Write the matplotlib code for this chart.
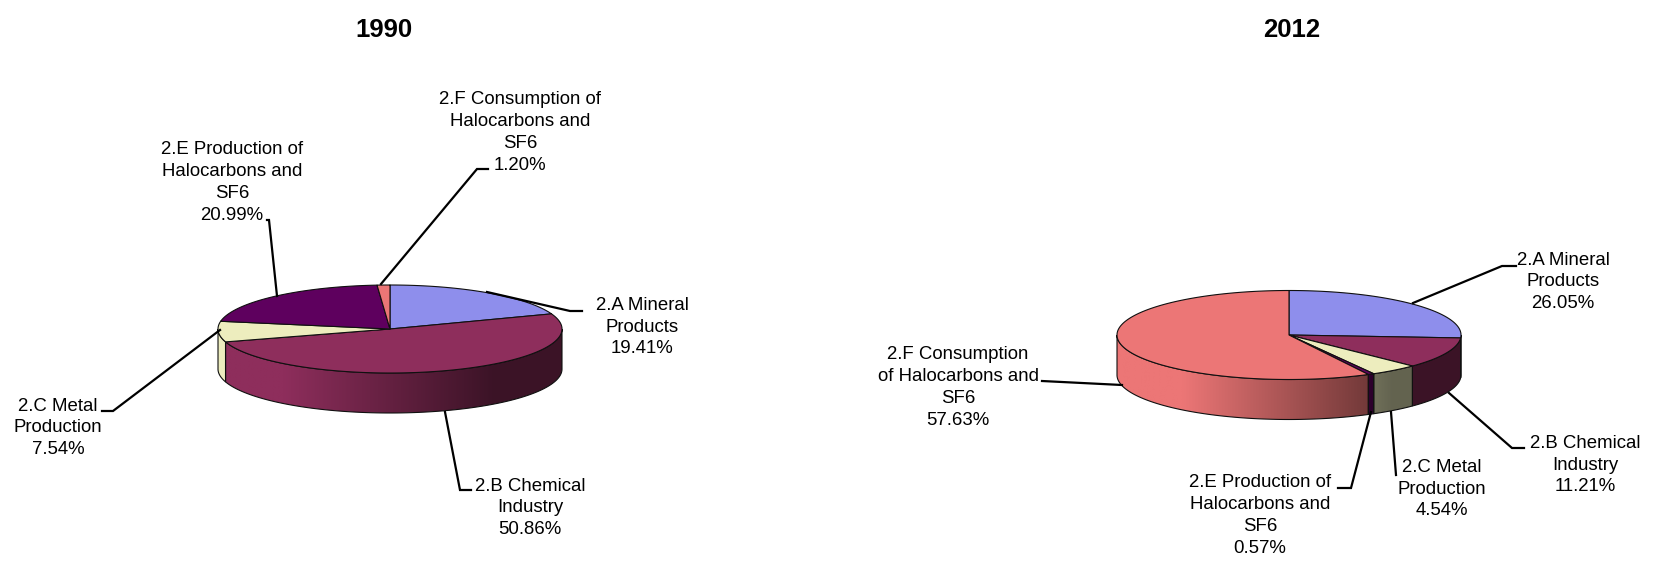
import numpy as np
import matplotlib
matplotlib.use('Agg')
import matplotlib.pyplot as plt
from matplotlib.patches import Polygon
from matplotlib.colors import to_rgb

plt.rcParams['font.family'] = ['Liberation Sans', 'DejaVu Sans']

years = ['1990', '2012']
values_1990 = [19.41, 50.86, 7.54, 20.99, 1.20]
values_2012 = [26.05, 11.21, 4.54, 0.57, 57.63]
names_1990 = ['2.A Mineral\nProducts', '2.B Chemical\nIndustry', '2.C Metal\nProduction',
              '2.E Production of\nHalocarbons and\nSF6', '2.F Consumption of\nHalocarbons and\nSF6']
names_2012 = ['2.A Mineral\nProducts', '2.B Chemical\nIndustry', '2.C Metal\nProduction',
              '2.E Production of\nHalocarbons and\nSF6', '2.F Consumption\nof Halocarbons and\nSF6']
colors = ['#8E8EEC', '#8E2E5C', '#EDEDBE', '#5E005E', '#EC7676']

# pixel layout of the figure: x, y of label centre
label_pos_1990 = [(642, 327), (530, 508), (58, 428), (232, 182.5), (520, 132.5)]
label_pos_2012 = [(1563, 282), (1585, 465), (1442, 489), (1260, 515.5), (958, 387.5)]
leaders_1990 = [[(487, 292), (570, 311), (582, 311)],
                [(445, 412), (460, 490), (471, 490)],
                [(220, 330), (113, 411), (102, 411)],
                [(277, 296), (269, 220), (267, 220)],
                [(381, 284), (477, 169), (488, 169)]]
leaders_2012 = [[(1413, 303), (1502, 266), (1516, 266)],
                [(1449, 393), (1512, 448), (1524, 448)],
                [(1391, 412), (1396, 475)],
                [(1371, 412), (1351, 488), (1338, 488)],
                [(1122, 385), (1042, 381)]]


def shade(t):
    return np.interp(t, [0.0, 0.19, 0.8, 1.0], [1.0, 1.0, 0.42, 0.42])


def draw_pie(ax, values, names, label_pos, leaders, cx, cy, rx, ry, depth):
    edges = np.radians(np.cumsum([0] + values) * 3.6)

    # side wall, only the front half shows
    for i, col in enumerate(colors):
        a = max(edges[i], np.pi / 2)
        b = min(edges[i + 1], 3 * np.pi / 2)
        if b <= a:
            continue
        th = np.linspace(a, b, 200)
        x = cx + rx * np.sin(th)
        y = cy - ry * np.cos(th)
        pts = np.r_[np.c_[x, y], np.c_[x, y + depth][::-1]]
        t = np.linspace(0, 1, 400)
        grad = (shade(t)[:, None] * np.array(to_rgb(col)))[None, :, :]
        im = ax.imshow(grad, extent=(cx - rx, cx + rx, cy + ry + depth, cy - ry),
                       aspect='auto', zorder=2, interpolation='bilinear')
        poly = Polygon(pts, closed=True, fc='none', ec='#101010', lw=0.8, zorder=3)
        ax.add_patch(poly)
        im.set_clip_path(poly)

    # top face
    for i, col in enumerate(colors):
        th = np.linspace(edges[i], edges[i + 1], 300)
        x = np.r_[cx, cx + rx * np.sin(th)]
        y = np.r_[cy, cy - ry * np.cos(th)]
        ax.add_patch(Polygon(np.c_[x, y], closed=True, fc=col, ec='#101010', lw=0.8,
                             joinstyle='round', zorder=4))

    # labels and leader lines
    for v, name, pos, line in zip(values, names, label_pos, leaders):
        ax.text(pos[0], pos[1], f'{name}\n{v:.2f}%', ha='center', va='center',
                multialignment='center', fontsize=13.4, linespacing=1.38, color='black', zorder=6)
        xs, ys = zip(*line)
        ax.plot(xs, ys, color='black', lw=1.6, solid_joinstyle='miter', zorder=5)


fig = plt.figure(figsize=(16.54, 5.65), dpi=100)
ax = fig.add_axes([0, 0, 1, 1])

draw_pie(ax, values_1990, names_1990, label_pos_1990, leaders_1990, 390, 329, 172, 44, 40)
draw_pie(ax, values_2012, names_2012, label_pos_2012, leaders_2012, 1289, 335, 172, 44.5, 40)

ax.text(384, 30, years[0], ha='center', va='center', fontsize=18.5, fontweight='bold')
ax.text(1292, 30, years[1], ha='center', va='center', fontsize=18.5, fontweight='bold')

ax.set_xlim(0, 1654)
ax.set_ylim(565, 0)
ax.axis('off')

fig.savefig('out.png', dpi=100)
